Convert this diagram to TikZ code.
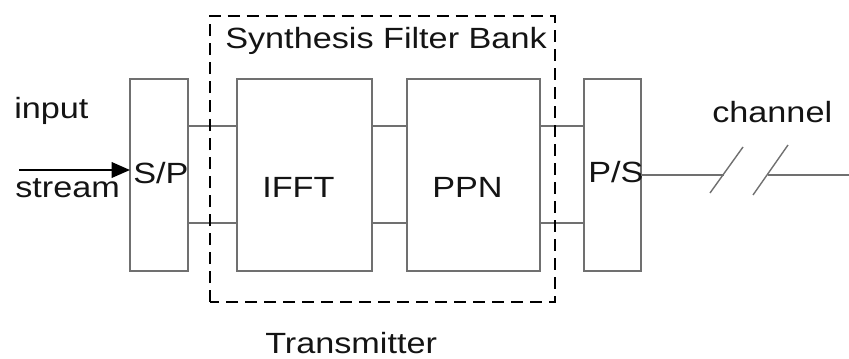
\documentclass[tikz,border=0pt]{standalone}
\usepackage{fontspec}
\setmainfont{Liberation Sans}[FakeStretch=1.17]
\usetikzlibrary{arrows.meta}
\definecolor{boxGray}{RGB}{112,112,112}
\definecolor{textBlack}{RGB}{20,20,20}

\begin{document}
\begin{tikzpicture}[x=0.025cm, y=0.025cm, font=\fontsize{20.8}{25}\selectfont,
    block/.style={draw=boxGray, line width=1.3pt, inner sep=0pt, outer sep=0pt, minimum height=4.8cm},
    wire/.style={draw=boxGray, line width=1.3pt},
    lbl/.style={text=textBlack, inner sep=0pt, anchor=base west}]
					\useasboundingbox (0,0) rectangle (849,358);
					
					% Blocks
					\node[block, minimum width=1.45cm] (sp) at (159,183) {};
					\node[block, minimum width=3.375cm] (ifft) at (304.5,183) {};
					\node[block, minimum width=3.325cm] (ppn) at (473.5,183) {};
					\node[block, minimum width=1.425cm] (ps) at (612.5,183) {};
					
					% Block labels
					\node[lbl] (sptext) at (133,175) {S/P};
					\node[lbl] (iffttext) at (262,161) {IFFT};
					\node[lbl] (ppntext) at (432,161) {PPN};
					\node[lbl] (pstext) at (588,176) {P/S};
					
					% Parallel lines between blocks
					\foreach \a/\b in {sp/ifft, ifft/ppn, ppn/ps} {
						\draw[wire] ([yshift=1.225cm]\a.east) -- ([yshift=1.225cm]\b.west);
						\draw[wire] ([yshift=-1.2cm]\a.east) -- ([yshift=-1.2cm]\b.west);
					}
					
					% Synthesis filter bank boundary
					\draw[black, line width=2.1pt, dash pattern=on 8.5pt off 5pt] (210,56) rectangle (555,342);
					\node[lbl] (sfb) at (225,310) {Synthesis Filter Bank};
					
					% Input stream
					\coordinate (src) at (19,188);
					\draw[-{Triangle[length=13pt, width=11pt]}, black, line width=1.4pt] (src) -- (sp.west |- src);
					\node[lbl] (input) at (14,240) {input};
					\node[lbl] (stream) at (15,161) {stream};
					
					% Channel with break marks
					\coordinate (cut1) at (724,183);
					\coordinate (cut2) at (768,183);
					\coordinate (sink) at (849,183);
					\draw[wire] (ps.east) -- (cut1);
					\draw[wire] (cut2) -- (sink);
					\draw[boxGray, line width=1pt] (710,165) -- (743,211);
					\draw[boxGray, line width=1pt] (753,163) -- (788,213);
					\node[lbl] (channel) at (712,236) {channel};
					
					\node[lbl] (tx) at (265,5) {Transmitter};
				\end{tikzpicture}
\end{document}
